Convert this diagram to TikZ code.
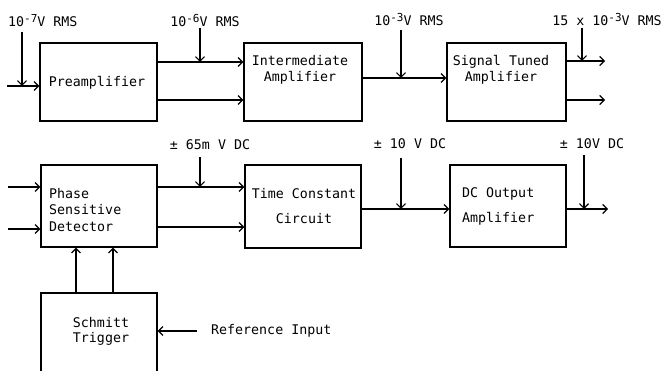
\documentclass[tikz,border=0pt]{standalone}
\usepackage{fontspec}
\setmainfont{DejaVu Sans Mono}
\usetikzlibrary{arrows.meta}
\newcommand{\supx}[1]{\raisebox{0.55ex}{\fontsize{11}{11}\selectfont #1}}
\begin{document}
\begin{tikzpicture}[x=1pt,y=-1pt,
  blk/.style={draw, line width=1.2pt, inner sep=0pt},
  txt/.style={font=\fontsize{13.3}{16.5}\selectfont, inner sep=0pt},
  lbl/.style={font=\fontsize{13.3}{15}\selectfont, inner sep=0pt},
  ln/.style={line width=1.2pt},
  arr/.style={line width=1.2pt, -{Straight Barb[length=4.5pt,width=9pt,line width=1.2pt]}}]
\useasboundingbox (0,0) rectangle (665,371);
\clip (0,0) rectangle (665,371);

% boxes
\node[blk, minimum width=117pt, minimum height=78pt] (pre)   at (98.5,82) {};
\node[blk, minimum width=118pt, minimum height=78pt] (inter) at (303,82) {};
\node[blk, minimum width=119pt, minimum height=78pt] (sig)   at (506.5,82) {};
\node[blk, minimum width=116pt, minimum height=82pt] (psd)   at (99,206) {};
\node[blk, minimum width=116pt, minimum height=83pt] (tcc)   at (303,206.5) {};
\node[blk, minimum width=116pt, minimum height=82pt] (dco)   at (508,206) {};
\node[blk, minimum width=116pt, minimum height=110pt] (sch)  at (99,348) {};

% box texts
\node[txt] (pret) at (97,83) {Preamplifier};
\node[txt, align=center] (intert) at (300,70) {Intermediate\\Amplifier};
\node[txt, align=center] (sigt) at (501,70) {Signal Tuned\\Amplifier};
\node[txt, align=left, anchor=west] (psdt) at (49,210) {Phase\\Sensitive\\Detector};
\node[txt, align=center, font=\fontsize{13.3}{25}\selectfont] (tcct) at (304,206) {Time Constant\\Circuit};
\node[txt, align=left, anchor=west, font=\fontsize{13.3}{25}\selectfont] (dcot) at (462,206) {DC Output\\Amplifier};
\node[txt, align=center, font=\fontsize{13.3}{15}\selectfont] (scht) at (101,331) {Schmitt\\Trigger};

% level labels
\node[lbl, anchor=west] (l7) at (8,21) {10\supx{-7}V RMS};
\node[lbl] (l6) at (205,21) {10\supx{-6}V RMS};
\node[lbl] (l3) at (409,20) {10\supx{-3}V RMS};
\node[lbl] (l15) at (607,20) {15 x 10\supx{-3}V RMS};
\node[lbl] (ld1) at (210,145) {± 65m V DC};
\node[lbl] (ld2) at (410,144) {± 10 V DC};
\node[lbl] (ld3) at (592,144) {± 10V DC};
\node[txt, anchor=west] (ref) at (211,331) {Reference Input};

% tap coordinates
\coordinate (in7) at (7,86);
\coordinate (t7) at (22,86);   \coordinate (s7) at (22,32);
\coordinate (t6) at (200,62);  \coordinate (s6) at (200,28);
\coordinate (b6) at (200,100);
\coordinate (t3) at (401,78);  \coordinate (s3) at (401,30);
\coordinate (t15) at (582,61); \coordinate (s15) at (582,28);
\coordinate (o1) at (605,61);  \coordinate (o2) at (605,100);
\coordinate (pi1) at (8,187);  \coordinate (pi2) at (8,229);
\coordinate (t65) at (200,187); \coordinate (s65) at (200,157);
\coordinate (b65) at (200,227);
\coordinate (t10) at (401,209); \coordinate (s10) at (401,158);
\coordinate (t10b) at (584,209); \coordinate (s10b) at (584,155);
\coordinate (o3) at (608,209);
\coordinate (u1) at (76,270);  \coordinate (u2) at (113,270);
\coordinate (rs) at (197,331);

% row 1 connectors
\draw[arr] (in7) -- (pre.west |- in7);
\draw[arr] (s7) -- (t7);
\draw[arr] (pre.east |- t6) -- (inter.west |- t6);
\draw[arr] (pre.east |- b6) -- (inter.west |- b6);
\draw[arr] (s6) -- (t6);
\draw[arr] (inter.east |- t3) -- (sig.west |- t3);
\draw[arr] (s3) -- (t3);
\draw[arr] (sig.east |- o1) -- (o1);
\draw[arr] (sig.east |- o2) -- (o2);
\draw[arr] (s15) -- (t15);

% row 2 connectors
\draw[arr] (pi1) -- (psd.west |- pi1);
\draw[arr] (pi2) -- (psd.west |- pi2);
\draw[arr] (psd.east |- t65) -- (tcc.west |- t65);
\draw[arr] (psd.east |- b65) -- (tcc.west |- b65);
\draw[arr] (s65) -- (t65);
\draw[arr] (tcc.east |- t10) -- (dco.west |- t10);
\draw[arr] (s10) -- (t10);
\draw[arr] (dco.east |- o3) -- (o3);
\draw[arr] (s10b) -- (t10b);

% Schmitt trigger
\draw[arr] (sch.north -| u1) -- (psd.south -| u1);
\draw[arr] (sch.north -| u2) -- (psd.south -| u2);
\draw[arr] (rs) -- (sch.east |- rs);
\end{tikzpicture}
\end{document}
